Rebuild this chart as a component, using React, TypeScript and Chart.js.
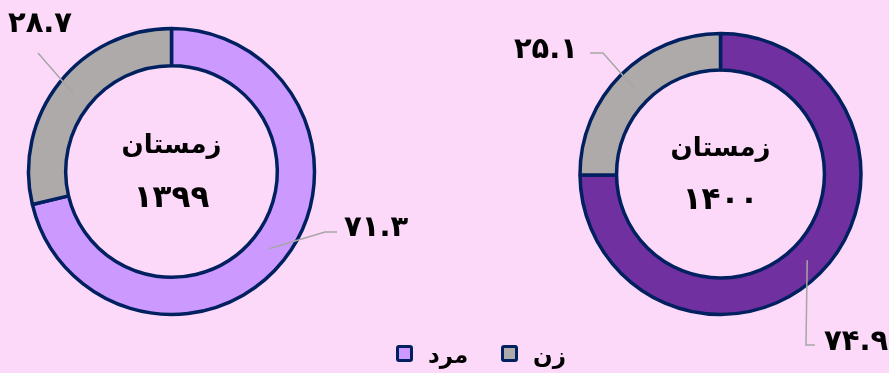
import React, { useEffect, useRef } from "react";
import { Chart, registerables } from "chart.js";

Chart.register(...registerables);

const categories = ["مرد", "زن"];
const values1399 = [71.3, 28.7];
const values1400 = [74.9, 25.1];
const labels1399 = ["۷۱.۳", "۲۸.۷"];
const labels1400 = ["۷۴.۹", "۲۵.۱"];
const centerTitle = "زمستان";
const year1399 = "۱۳۹۹";
const year1400 = "۱۴۰۰";

const BG = "#fcd9f9";
const BORDER = "#002060";
const GRAY = "#aeaaaa";
const LIGHT = "#cc99ff";
const DARK = "#7030a0";
const FONT = "'DejaVu Sans', sans-serif";

type Leader = { pts: [number, number][]; tx: number; ty: number; align: CanvasTextAlign };

function makeLabelPlugin(texts: string[], leaders: Leader[], title: string, year: string) {
  return {
    id: "labels" + year,
    afterDraw(chart: any) {
      const ctx = chart.ctx as CanvasRenderingContext2D;
      const meta = chart.getDatasetMeta(0);
      ctx.save();
      meta.data.forEach((arc: any, i: number) => {
        const p = arc.getProps(["x", "y", "startAngle", "endAngle", "innerRadius", "outerRadius"], true);
        const mid = (p.startAngle + p.endAngle) / 2;
        const r = (p.innerRadius + p.outerRadius) / 2;
        const sx = p.x + Math.cos(mid) * r;
        const sy = p.y + Math.sin(mid) * r;
        const L = leaders[i];
        ctx.beginPath();
        ctx.strokeStyle = "#a6a6a6";
        ctx.lineWidth = 1.5;
        ctx.moveTo(sx, sy);
        L.pts.forEach(([x, y]) => ctx.lineTo(x, y));
        ctx.stroke();
        ctx.fillStyle = "#000";
        ctx.font = "bold 29px " + FONT;
        ctx.textAlign = L.align;
        ctx.textBaseline = "middle";
        ctx.fillText(texts[i], L.tx, L.ty);
      });
      const a = meta.data[0];
      ctx.textAlign = "center";
      ctx.textBaseline = "middle";
      ctx.fillStyle = "#000";
      ctx.font = "bold 26px " + FONT;
      ctx.fillText(title, a.x, a.y - 25);
      ctx.font = "bold 31px " + FONT;
      ctx.fillText(year, a.x, a.y + 27);
      ctx.restore();
    },
  };
}

function Donut(props: {
  values: number[];
  color: string;
  texts: string[];
  leaders: Leader[];
  year: string;
  padding: { left: number; right: number; top: number; bottom: number };
  radius: number;
  style: React.CSSProperties;
}) {
  const ref = useRef<HTMLCanvasElement | null>(null);
  useEffect(() => {
    if (!ref.current) return;
    const chart = new Chart(ref.current, {
      type: "doughnut",
      data: {
        labels: categories,
        datasets: [
          {
            data: props.values,
            backgroundColor: [props.color, GRAY],
            borderColor: BORDER,
            borderWidth: 3.5,
            borderAlign: "center",
          },
        ],
      },
      options: {
        animation: false,
        responsive: false,
        cutout: "74%",
        radius: props.radius,
        layout: { padding: props.padding },
        plugins: { legend: { display: false }, tooltip: { enabled: false } },
      } as any,
      plugins: [makeLabelPlugin(props.texts, props.leaders, centerTitle, props.year)],
    });
    return () => chart.destroy();
  }, []);
  return <canvas ref={ref} width={props.style.width as number} height={props.style.height as number} style={props.style} />;
}

const leftLeaders: Leader[] = [
  { pts: [[325, 232], [337, 232]], tx: 344, ty: 228, align: "left" },
  { pts: [[38, 53]], tx: 40, ty: 24, align: "center" },
];
const rightLeaders: Leader[] = [
  { pts: [[361, 345], [370, 345]], tx: 379, ty: 342, align: "left" },
  { pts: [[158, 53], [145, 53]], tx: 133, ty: 50, align: "right" },
];

function LegendItem({ color, text, left }: { color: string; text: string; left: number }) {
  return (
    <div style={{ position: "absolute", left, top: 343, height: 20, display: "flex", alignItems: "center" }}>
      <span
        style={{
          display: "inline-block",
          width: 11,
          height: 11,
          background: color,
          border: `3px solid ${BORDER}`,
          borderRadius: 3,
        }}
      />
      <span
        style={{
          marginLeft: 15,
          fontFamily: FONT,
          fontWeight: "bold",
          fontSize: 23,
          color: "#000",
          lineHeight: "20px",
          position: "relative",
          top: 2,
        }}
      >
        {text}
      </span>
    </div>
  );
}

export default function App() {
  useEffect(() => {
    document.body.style.margin = "0";
  }, []);
  return (
    <div style={{ position: "fixed", left: 0, top: 0, width: 889, height: 373, background: BG, overflow: "hidden" }}>
      <Donut
        values={values1399}
        color={LIGHT}
        texts={labels1399}
        leaders={leftLeaders}
        year={year1399}
        padding={{ left: 0, top: 0, right: 102, bottom: 30 }}
        radius={143}
        style={{ position: "absolute", left: 0, top: 0, width: 445, height: 373 }}
      />
      <Donut
        values={values1400}
        color={DARK}
        texts={labels1400}
        leaders={rightLeaders}
        year={year1400}
        padding={{ left: 135.5, top: 34, right: 28.5, bottom: 59 }}
        radius={140.5}
        style={{ position: "absolute", left: 445, top: 0, width: 444, height: 373 }}
      />
      <LegendItem color={LIGHT} text={categories[0]} left={396} />
      <LegendItem color={GRAY} text={categories[1]} left={501} />
    </div>
  );
}
